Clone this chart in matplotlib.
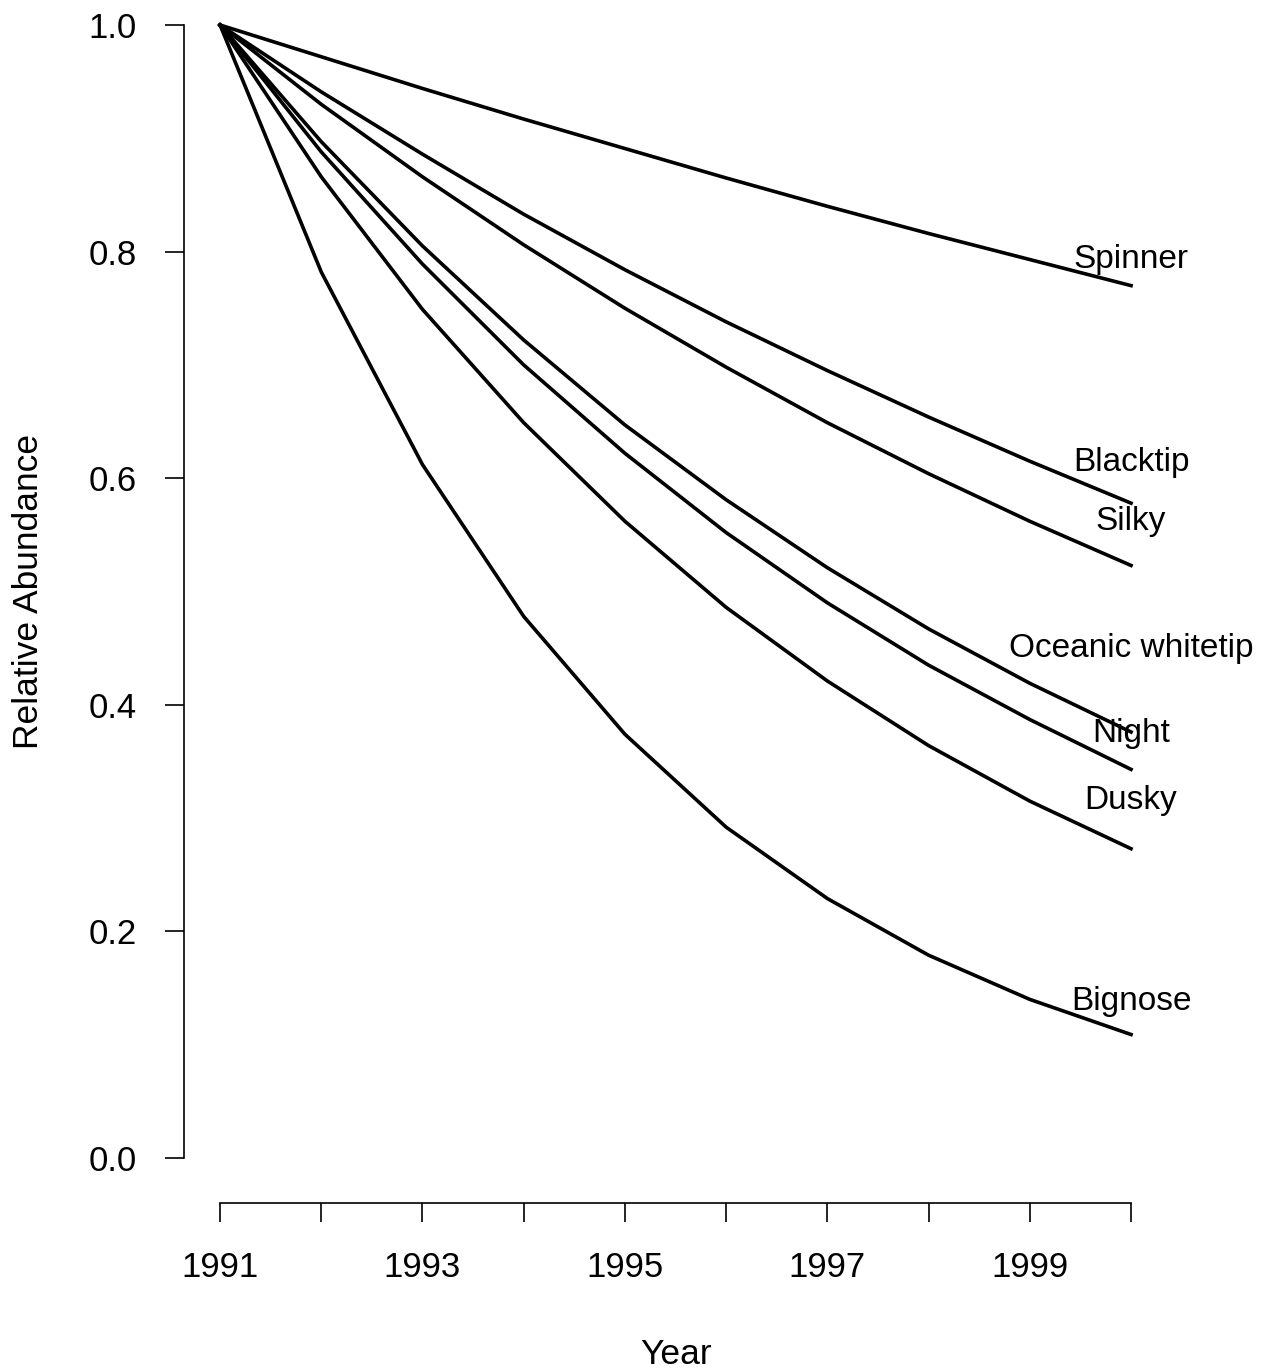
import matplotlib.pyplot as plt

years = [1991, 1992, 1993, 1994, 1995, 1996, 1997, 1998, 1999, 2000]

species = ["Spinner", "Blacktip", "Silky", "Oceanic whitetip", "Night", "Dusky", "Bignose"]

spinner = [1.0, 0.972, 0.944, 0.917, 0.891, 0.865, 0.840, 0.816, 0.793, 0.770]
blacktip = [1.0, 0.941, 0.886, 0.833, 0.784, 0.738, 0.695, 0.654, 0.615, 0.578]
silky = [1.0, 0.930, 0.866, 0.806, 0.750, 0.698, 0.649, 0.604, 0.562, 0.523]
oceanic_whitetip = [1.0, 0.897, 0.805, 0.722, 0.647, 0.581, 0.521, 0.467, 0.419, 0.376]
night = [1.0, 0.888, 0.789, 0.700, 0.622, 0.552, 0.490, 0.435, 0.387, 0.343]
dusky = [1.0, 0.866, 0.749, 0.649, 0.562, 0.486, 0.421, 0.364, 0.315, 0.273]
bignose = [1.0, 0.782, 0.612, 0.478, 0.374, 0.292, 0.229, 0.179, 0.140, 0.109]

abundance = [spinner, blacktip, silky, oceanic_whitetip, night, dusky, bignose]

# vertical offset (points) of each name above the line's last point
label_raise = [19, 29, 32, 60, 26, 35, 24]

plt.rcParams["font.family"] = ["Liberation Sans", "DejaVu Sans"]

fig = plt.figure(figsize=(12.62, 13.71), dpi=100)
ax = fig.add_axes([0.1455, 0.1223, 0.7796, 0.8925])

for name, values, raise_pt in zip(species, abundance, label_raise):
    ax.plot(years, values, color="black", lw=2.6, solid_joinstyle="round")
    ax.annotate(name, xy=(years[-1], values[-1]), xytext=(0, raise_pt),
                textcoords="offset points", ha="center", va="center",
                fontsize=24)

ax.set_xlim(1991 - 0.36, 2000 + 0.36)
ax.set_ylim(-0.04, 1.04)

for side in ["top", "right"]:
    ax.spines[side].set_visible(False)
ax.spines["left"].set_bounds(0, 1)
ax.spines["bottom"].set_bounds(1991, 2000)
for side in ["left", "bottom"]:
    ax.spines[side].set_linewidth(1.2)

ax.set_xticks(years)
ax.set_xticklabels([str(y) if y % 2 == 1 else "" for y in years])
ax.set_yticks([0.0, 0.2, 0.4, 0.6, 0.8, 1.0])
ax.set_yticklabels(["0.0", "0.2", "0.4", "0.6", "0.8", "1.0"])
ax.tick_params(axis="both", length=13.5, width=1.2, labelsize=25)
ax.tick_params(axis="x", pad=21)
ax.tick_params(axis="y", pad=20)

ax.set_xlabel("Year", fontsize=25.5)
ax.set_ylabel("Relative Abundance", fontsize=25.5)
ax.xaxis.set_label_coords(0.5, -0.1235)
ax.yaxis.set_label_coords(-0.158, 0.5)
ax.xaxis.label.set_va("center")
ax.yaxis.label.set_va("center")

fig.savefig("out.png", dpi=100)
plt.close(fig)
